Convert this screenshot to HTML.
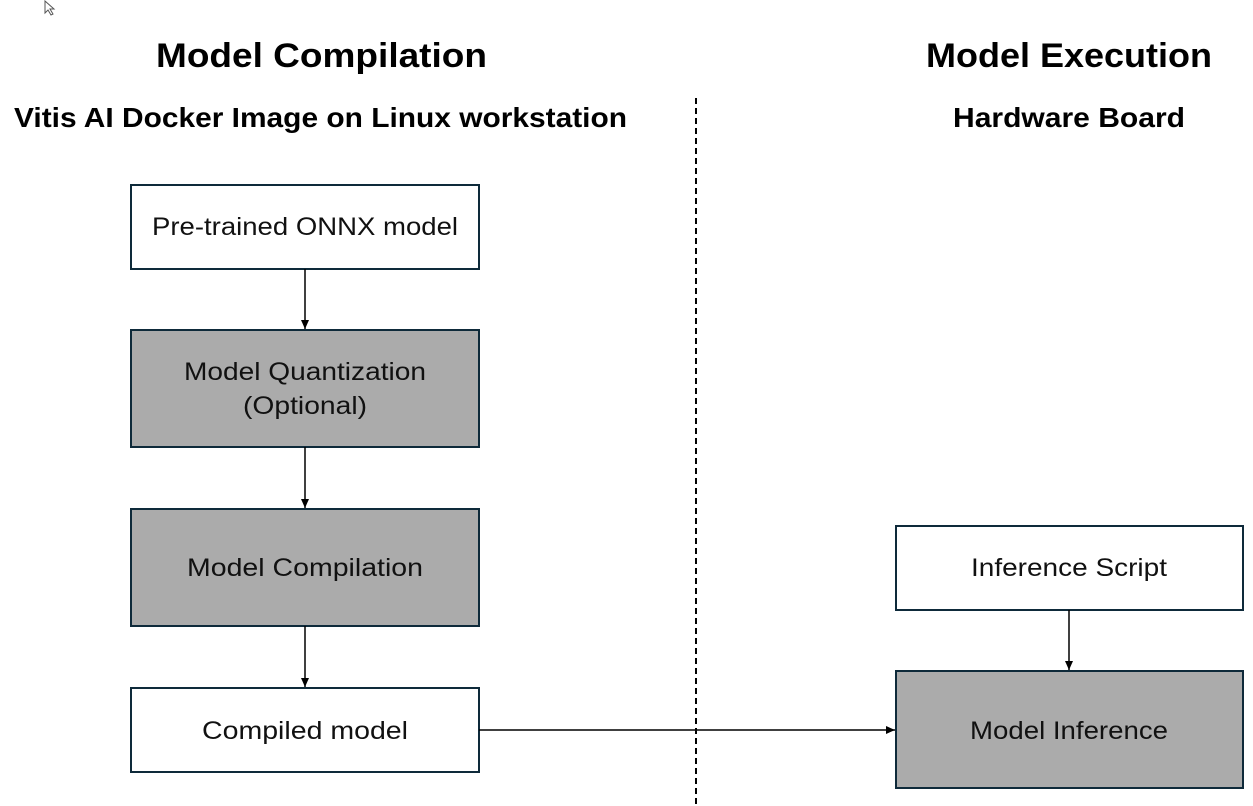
<!DOCTYPE html>
<html><head><style>body{margin:0;background:#fff}svg{display:block}</style></head><body>
<svg width="1253" height="806" xmlns="http://www.w3.org/2000/svg" font-family="Liberation Sans, sans-serif">
<defs><marker id="a" markerWidth="10" markerHeight="10" refX="9" refY="5" orient="auto" markerUnits="userSpaceOnUse"><path d="M0,1 L9,5 L0,9z" fill="#000"/></marker></defs>
<path d="M45,1 L45,13 L48,10 L51,15 L53,14 L50,9 L54,9 Z" fill="#fff" stroke="#555" stroke-width="1"/>
<g font-weight="bold" fill="#000" lengthAdjust="spacingAndGlyphs">
<text x="156" y="67" font-size="34" textLength="331" lengthAdjust="spacingAndGlyphs">Model Compilation</text>
<text x="926" y="67" font-size="34" textLength="286" lengthAdjust="spacingAndGlyphs">Model Execution</text>
<text x="14" y="127" font-size="28" textLength="613" lengthAdjust="spacingAndGlyphs">Vitis AI Docker Image on Linux workstation</text>
<text x="953" y="127" font-size="28" textLength="232" lengthAdjust="spacingAndGlyphs">Hardware Board</text>
</g>
<line x1="696" y1="98" x2="696" y2="806" stroke="#000" stroke-width="2" stroke-dasharray="6,4"/>
<g stroke="#0e2a3a" stroke-width="2">
<rect x="131" y="185" width="348" height="84" fill="#fff"/>
<rect x="131" y="330" width="348" height="117" fill="#ababab"/>
<rect x="131" y="509" width="348" height="117" fill="#ababab"/>
<rect x="131" y="688" width="348" height="84" fill="#fff"/>
<rect x="896" y="526" width="347" height="84" fill="#fff"/>
<rect x="896" y="671" width="347" height="117" fill="#ababab"/>
</g>
<g stroke="#000" stroke-width="1.5" marker-end="url(#a)">
<line x1="305" y1="269" x2="305" y2="329"/>
<line x1="305" y1="447" x2="305" y2="508"/>
<line x1="305" y1="626" x2="305" y2="687"/>
<line x1="1069" y1="610" x2="1069" y2="670"/>
<line x1="479" y1="730" x2="895" y2="730"/>
</g>
<g font-size="25" fill="#111">
<text x="152" y="235" textLength="306" lengthAdjust="spacingAndGlyphs">Pre-trained ONNX model</text>
<text x="184" y="380" textLength="242" lengthAdjust="spacingAndGlyphs">Model Quantization</text>
<text x="243" y="414" textLength="124" lengthAdjust="spacingAndGlyphs">(Optional)</text>
<text x="187" y="576" textLength="236" lengthAdjust="spacingAndGlyphs">Model Compilation</text>
<text x="202" y="739" textLength="206" lengthAdjust="spacingAndGlyphs">Compiled model</text>
<text x="971" y="576" textLength="196" lengthAdjust="spacingAndGlyphs">Inference Script</text>
<text x="970" y="739" textLength="198" lengthAdjust="spacingAndGlyphs">Model Inference</text>
</g>
</svg>
</body></html>
